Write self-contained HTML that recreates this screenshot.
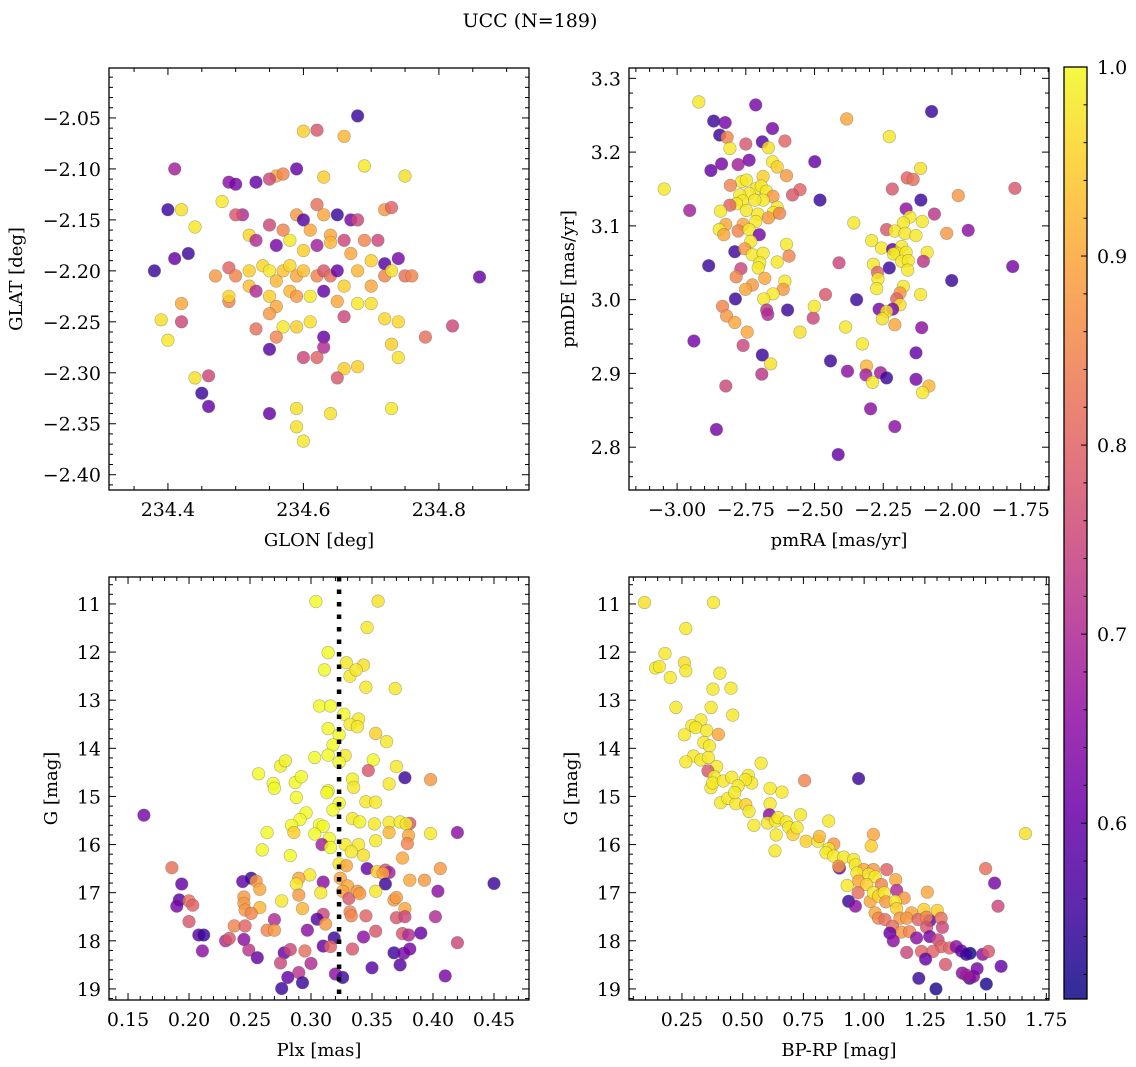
<!DOCTYPE html>
<html><head><meta charset="utf-8"><style>
html,body{margin:0;padding:0;background:#fff;}
svg{display:block;font-family:"DejaVu Serif","Liberation Serif",serif;}
</style></head><body>
<svg id="chart" width="1136" height="1067" viewBox="0 0 1136 1067">
<text x="530" y="27" font-size="19" text-anchor="middle">UCC (N=189)</text>
</svg>
<script>
// ---- data ----
const tlGlon=[234.68,234.62,234.60,234.66,234.69,234.59,234.41,234.63,234.75,234.56,234.57,234.49,234.50,234.53,234.55,234.40,234.42,234.48,234.51,234.50,234.59,234.62,234.60,234.65,234.67,234.68,234.72,234.73,234.44,234.52,234.55,234.57,234.61,234.63,234.64,234.66,234.69,234.71,234.41,234.43,234.38,234.53,234.56,234.58,234.60,234.62,234.64,234.67,234.70,234.74,234.72,234.47,234.49,234.50,234.52,234.54,234.55,234.56,234.57,234.58,234.59,234.60,234.62,234.63,234.64,234.65,234.66,234.68,234.70,234.72,234.73,234.75,234.42,234.39,234.42,234.40,234.49,234.49,234.52,234.53,234.55,234.56,234.58,234.59,234.61,234.63,234.65,234.68,234.70,234.72,234.74,234.53,234.55,234.57,234.59,234.61,234.63,234.66,234.82,234.78,234.76,234.86,234.56,234.55,234.63,234.60,234.62,234.66,234.68,234.65,234.73,234.74,234.44,234.46,234.45,234.46,234.55,234.59,234.64,234.73,234.59,234.60];
const tlGlat=[-2.048,-2.062,-2.063,-2.068,-2.097,-2.100,-2.100,-2.108,-2.107,-2.107,-2.105,-2.113,-2.115,-2.113,-2.110,-2.140,-2.140,-2.132,-2.145,-2.145,-2.145,-2.135,-2.150,-2.145,-2.150,-2.150,-2.140,-2.138,-2.157,-2.165,-2.155,-2.160,-2.160,-2.145,-2.165,-2.170,-2.170,-2.170,-2.188,-2.183,-2.200,-2.170,-2.175,-2.170,-2.180,-2.175,-2.172,-2.183,-2.190,-2.188,-2.193,-2.205,-2.197,-2.205,-2.200,-2.195,-2.200,-2.210,-2.200,-2.195,-2.205,-2.200,-2.205,-2.200,-2.205,-2.200,-2.215,-2.200,-2.215,-2.205,-2.200,-2.205,-2.232,-2.248,-2.250,-2.268,-2.230,-2.225,-2.215,-2.220,-2.225,-2.235,-2.220,-2.225,-2.225,-2.220,-2.230,-2.232,-2.232,-2.247,-2.250,-2.257,-2.242,-2.255,-2.255,-2.250,-2.265,-2.245,-2.254,-2.265,-2.205,-2.206,-2.265,-2.277,-2.275,-2.285,-2.285,-2.296,-2.294,-2.305,-2.272,-2.285,-2.305,-2.303,-2.320,-2.333,-2.340,-2.335,-2.340,-2.335,-2.353,-2.367];
const tlProb=[0.55,0.78,0.95,0.92,0.98,0.6,0.68,0.95,0.97,0.9,0.85,0.65,0.62,0.6,0.75,0.55,0.97,0.98,0.7,0.78,0.88,0.82,0.58,0.55,0.62,0.75,0.88,0.8,0.98,0.96,0.75,0.85,0.9,0.9,0.9,0.75,0.85,0.75,0.6,0.55,0.55,0.7,0.62,0.98,0.95,0.68,0.92,0.9,0.95,0.62,0.58,0.88,0.8,0.85,0.95,0.96,0.98,0.92,0.94,0.96,0.9,0.93,0.85,0.78,0.82,0.6,0.95,0.92,0.9,0.85,0.97,0.82,0.9,0.97,0.75,0.98,0.85,0.96,0.93,0.7,0.95,0.9,0.92,0.88,0.98,0.6,0.9,0.98,0.97,0.96,0.96,0.82,0.88,0.98,0.95,0.97,0.6,0.75,0.75,0.82,0.85,0.6,0.85,0.58,0.7,0.75,0.8,0.95,0.95,0.78,0.95,0.97,0.97,0.75,0.55,0.6,0.6,0.97,0.97,0.98,0.97,0.98];

const trPmra=[-2.921,-2.714,-2.867,-2.825,-2.653,-2.845,-2.818,-2.75,-2.69,-2.608,-2.808,-2.668,-2.877,-2.838,-2.778,-2.738,-2.499,-2.653,-2.636,-2.602,-2.687,-2.765,-2.748,-2.806,-3.047,-2.711,-2.694,-2.675,-2.553,-2.58,-2.738,-2.772,-2.651,-2.48,-2.687,-2.717,-2.762,-2.784,-2.808,-2.636,-2.748,-2.954,-2.842,-2.706,-2.65,-2.668,-2.627,-2.714,-2.823,-2.76,-2.847,-2.83,-2.778,-2.738,-2.701,-2.732,-2.602,-2.79,-2.754,-2.726,-2.687,-2.593,-2.636,-2.699,-2.885,-2.768,-2.705,-2.785,-2.681,-2.608,-2.614,-2.726,-2.751,-2.651,-2.685,-2.788,-2.46,-2.835,-2.82,-2.79,-2.745,-2.674,-2.67,-2.598,-2.505,-2.501,-2.553,-2.411,-2.383,-2.357,-2.347,-2.387,-2.326,-2.939,-2.76,-2.69,-2.66,-2.692,-2.823,-2.857,-2.442,-2.38,-2.311,-2.313,-2.289,-2.26,-2.238,-2.296,-2.208,-2.414,-2.228,-2.074,-2.114,-2.163,-2.141,-2.217,-2.113,-1.771,-1.977,-2.167,-2.153,-2.064,-2.108,-2.177,-2.238,-2.208,-2.171,-2.131,-1.941,-2.019,-2.292,-2.256,-2.216,-2.183,-2.201,-2.167,-2.213,-2.09,-2.183,-2.159,-2.104,-2.286,-2.228,-2.161,-1.779,-2.271,-2.269,-2.001,-2.274,-2.177,-2.189,-2.114,-2.201,-2.189,-2.265,-2.216,-2.238,-2.253,-2.208,-2.11,-2.131,-2.131,-2.084,-2.107];
const trPmde=[3.268,3.264,3.242,3.24,3.232,3.223,3.22,3.211,3.214,3.215,3.205,3.206,3.175,3.184,3.183,3.189,3.187,3.187,3.18,3.168,3.167,3.16,3.162,3.155,3.15,3.151,3.154,3.147,3.149,3.142,3.144,3.142,3.14,3.135,3.135,3.135,3.134,3.13,3.128,3.125,3.121,3.121,3.12,3.116,3.118,3.111,3.117,3.106,3.102,3.102,3.095,3.088,3.093,3.095,3.088,3.079,3.075,3.065,3.069,3.061,3.063,3.059,3.051,3.05,3.046,3.042,3.043,3.031,3.029,3.025,3.014,3.02,3.014,3.008,3.001,3.001,3.007,2.991,2.978,2.969,2.956,2.986,2.98,2.986,2.975,2.991,2.956,3.05,3.245,3.104,3.0,2.963,2.94,2.944,2.938,2.925,2.913,2.899,2.883,2.824,2.917,2.903,2.91,2.898,2.888,2.901,2.894,2.852,2.828,2.79,3.221,3.255,3.178,3.165,3.163,3.15,3.135,3.151,3.141,3.123,3.112,3.116,3.106,3.104,3.095,3.093,3.09,3.087,3.094,3.09,3.08,3.07,3.068,3.072,3.063,3.064,3.062,3.064,3.052,3.053,3.052,3.048,3.043,3.04,3.045,3.037,3.028,3.026,3.015,3.018,3.009,3.007,3.001,2.993,2.987,2.987,2.984,2.974,2.966,2.962,2.928,2.892,2.883,2.874];
const trProb=[0.98,0.62,0.55,0.62,0.62,0.55,0.85,0.78,0.58,0.8,0.98,0.97,0.6,0.62,0.68,0.62,0.6,0.98,0.95,0.88,0.95,0.98,0.98,0.85,0.98,0.98,0.98,0.98,0.8,0.78,0.98,0.98,0.88,0.55,0.98,0.98,0.98,0.98,0.8,0.98,0.98,0.68,0.98,0.98,0.98,0.88,0.85,0.98,0.9,0.9,0.98,0.9,0.85,0.98,0.62,0.98,0.98,0.55,0.88,0.98,0.98,0.85,0.98,0.98,0.55,0.75,0.98,0.85,0.9,0.98,0.88,0.88,0.9,0.98,0.98,0.55,0.78,0.85,0.88,0.9,0.9,0.72,0.7,0.55,0.75,0.98,0.97,0.75,0.9,0.98,0.55,0.98,0.98,0.62,0.75,0.55,0.97,0.72,0.75,0.62,0.55,0.65,0.92,0.68,0.98,0.68,0.55,0.65,0.65,0.6,0.98,0.55,0.97,0.8,0.82,0.78,0.55,0.78,0.88,0.65,0.98,0.72,0.98,0.98,0.78,0.98,0.98,0.98,0.65,0.88,0.98,0.98,0.6,0.98,0.98,0.98,0.98,0.98,0.98,0.98,0.72,0.98,0.55,0.98,0.62,0.8,0.98,0.55,0.98,0.98,0.88,0.98,0.8,0.97,0.62,0.62,0.97,0.97,0.9,0.65,0.6,0.62,0.92,0.98];

const blPlx=[0.304,0.355,0.346,0.314,0.329,0.343,0.311,0.332,0.337,0.345,0.369,0.307,0.316,0.327,0.339,0.332,0.338,0.314,0.323,0.353,0.362,0.318,0.303,0.314,0.328,0.323,0.351,0.275,0.279,0.347,0.377,0.398,0.37,0.364,0.257,0.269,0.27,0.287,0.292,0.334,0.335,0.288,0.314,0.313,0.323,0.345,0.353,0.318,0.296,0.291,0.284,0.286,0.307,0.31,0.303,0.334,0.34,0.352,0.364,0.373,0.381,0.378,0.364,0.38,0.379,0.398,0.42,0.163,0.264,0.26,0.315,0.309,0.316,0.328,0.339,0.333,0.343,0.353,0.283,0.375,0.323,0.329,0.346,0.354,0.361,0.364,0.359,0.406,0.186,0.299,0.29,0.288,0.244,0.251,0.255,0.31,0.194,0.324,0.33,0.381,0.393,0.45,0.361,0.258,0.308,0.326,0.331,0.338,0.34,0.353,0.404,0.245,0.192,0.2,0.203,0.19,0.245,0.246,0.258,0.276,0.29,0.293,0.368,0.37,0.377,0.251,0.27,0.31,0.305,0.312,0.332,0.333,0.345,0.37,0.377,0.402,0.2,0.237,0.246,0.264,0.27,0.297,0.353,0.375,0.38,0.39,0.208,0.212,0.23,0.233,0.245,0.319,0.343,0.42,0.211,0.249,0.256,0.278,0.283,0.295,0.31,0.316,0.334,0.368,0.376,0.381,0.275,0.3,0.373,0.35,0.29,0.281,0.32,0.326,0.41,0.293,0.276];
const blG=[10.95,10.94,11.49,12.01,12.22,12.27,12.37,12.5,12.37,12.73,12.76,13.12,13.12,13.29,13.39,13.5,13.55,13.59,13.72,13.69,13.86,13.93,14.19,14.14,14.15,14.29,14.24,14.37,14.26,14.46,14.61,14.65,14.38,14.74,14.53,14.73,14.83,14.71,14.59,14.64,14.81,15.02,14.88,14.92,15.14,15.11,15.12,15.28,15.34,15.48,15.6,15.75,15.59,15.62,15.78,15.46,15.53,15.57,15.54,15.53,15.56,15.57,15.75,15.81,15.98,15.77,15.75,15.39,15.75,16.11,15.87,16.0,16.06,16.0,16.0,16.15,16.22,15.92,16.23,16.28,16.4,16.44,16.5,16.56,16.53,16.58,16.6,16.5,16.48,16.63,16.7,16.82,16.77,16.7,16.76,16.78,16.82,16.7,16.86,16.74,16.74,16.81,16.82,16.93,17.0,16.97,17.12,16.97,17.02,16.97,16.97,17.09,17.15,17.17,17.26,17.28,17.22,17.36,17.31,17.17,17.05,17.33,17.15,17.1,17.33,17.43,17.56,17.45,17.55,17.65,17.4,17.48,17.48,17.52,17.5,17.5,17.6,17.69,17.69,17.78,17.78,17.78,17.8,17.85,17.88,17.84,17.88,17.88,18.0,17.95,17.97,17.94,17.92,18.04,18.21,18.19,18.35,18.25,18.18,18.21,18.11,18.12,18.17,18.25,18.26,18.17,18.46,18.47,18.5,18.56,18.66,18.76,18.69,18.76,18.73,18.87,18.99];
const blProb=[1,0.97,0.98,1,0.98,0.97,1,0.98,0.98,0.98,0.98,1,1,1,0.98,0.98,0.98,1,1,0.95,0.98,1,1,1,0.98,1,1,0.99,0.99,0.78,0.55,0.88,0.98,0.98,1,1,1,1,1,0.99,0.98,1,1,1,1,0.98,0.98,1,1,1,1,0.95,1,1,1,0.98,0.99,0.98,0.98,0.98,0.78,0.98,0.92,0.9,0.85,0.98,0.65,0.62,1,1,1,0.68,1,0.98,0.98,0.98,0.97,0.98,1,0.9,0.98,0.9,0.6,0.95,0.78,0.68,0.9,0.88,0.82,0.98,0.9,0.98,0.6,0.55,0.88,0.65,0.6,0.9,0.9,0.9,0.88,0.55,0.55,0.9,0.98,0.9,0.78,0.88,0.88,0.98,0.65,0.88,0.58,0.82,0.8,0.62,0.88,0.88,0.92,0.98,0.88,0.92,0.88,0.88,0.9,0.85,0.7,0.75,0.58,0.88,0.85,0.85,0.8,0.78,0.75,0.7,0.78,0.85,0.8,0.85,0.88,0.65,0.78,0.78,0.7,0.6,0.58,0.55,0.7,0.78,0.65,0.55,0.65,0.75,0.65,0.72,0.6,0.6,0.75,0.82,0.6,0.8,0.78,0.55,0.62,0.62,0.75,0.7,0.58,0.58,0.72,0.6,0.65,0.55,0.62,0.55,0.55];
const medianPlx=0.323;

const brBprp=[0.096,0.38,0.266,0.18,0.26,0.141,0.157,0.266,0.202,0.406,0.378,0.452,0.225,0.37,0.459,0.328,0.291,0.307,0.352,0.4,0.26,0.34,0.363,0.298,0.266,0.328,0.359,0.393,0.576,0.357,0.383,0.369,0.376,0.42,0.455,0.523,0.537,0.511,0.481,0.409,0.439,0.472,0.513,0.526,0.467,0.613,0.662,0.613,0.755,0.977,0.61,0.546,0.602,0.635,0.646,0.638,0.633,0.679,0.69,0.707,0.724,0.738,0.854,0.761,0.81,0.816,0.875,0.854,0.843,0.875,0.916,1.038,1.029,0.898,0.895,0.957,0.964,0.998,1.038,1.093,0.97,1.018,1.045,0.977,0.93,1.01,1.071,1.13,0.936,0.964,0.975,1.025,1.038,1.059,1.083,1.089,1.134,1.165,1.128,1.134,1.26,1.195,1.246,1.301,1.045,1.059,1.086,1.147,1.175,1.222,1.27,1.256,1.317,1.117,1.153,1.187,1.106,1.12,1.216,1.257,1.27,1.304,1.322,1.318,1.352,1.379,1.4,1.436,1.42,1.488,1.512,1.175,1.236,1.283,1.253,1.335,1.404,1.434,1.45,1.465,1.42,1.564,1.503,1.296,1.225,1.5,1.537,1.551,1.664];
const brG=[10.97,10.97,11.51,12.03,12.22,12.33,12.3,12.39,12.53,12.44,12.77,12.75,13.15,13.15,13.31,13.41,13.53,13.57,13.63,13.71,13.72,13.88,13.95,14.16,14.28,14.24,14.19,14.38,14.31,14.47,14.59,14.82,14.72,14.68,14.6,14.56,14.72,14.65,14.78,15.13,15.04,15.15,15.17,15.31,14.92,14.83,14.91,15.15,14.67,14.63,15.38,15.6,15.55,15.51,15.44,15.8,16.13,15.53,15.64,15.79,15.65,15.38,15.51,15.93,15.93,15.83,15.99,16.09,16.17,16.24,16.26,15.79,16.03,16.49,16.45,16.31,16.42,16.52,16.52,16.52,16.59,16.62,16.67,16.76,16.85,16.83,16.83,16.73,17.18,17.28,17.0,17.18,17.0,17.07,17.0,17.19,16.95,17.11,17.18,17.33,16.99,17.42,17.35,17.37,17.42,17.53,17.56,17.53,17.53,17.56,17.58,17.51,17.53,17.7,17.82,17.81,17.84,18.0,17.94,17.72,17.91,17.98,17.72,18.12,18.15,18.12,18.21,18.26,18.28,18.28,18.22,18.24,18.22,18.22,18.38,18.49,18.67,18.78,18.74,18.58,18.71,18.53,18.9,19.0,18.78,16.5,16.8,17.28,15.77];
const brProb=[0.97,0.98,0.98,0.98,0.97,0.98,0.98,0.98,0.98,0.98,0.98,0.98,0.98,0.98,0.98,0.98,0.98,0.98,0.98,0.9,0.98,0.98,0.98,0.98,0.98,0.98,0.98,0.98,0.98,0.78,0.98,0.98,0.98,0.98,0.98,0.98,0.98,0.98,0.98,0.98,0.98,0.98,0.95,0.98,0.98,0.98,0.98,0.98,0.85,0.55,0.65,0.98,0.98,0.98,0.98,0.98,0.98,0.98,0.98,0.95,0.98,0.98,0.98,0.95,0.98,0.92,0.88,0.98,0.98,0.98,0.98,0.9,0.95,0.6,0.88,0.98,0.98,0.9,0.88,0.8,0.98,0.98,0.98,0.9,0.98,0.95,0.85,0.9,0.55,0.65,0.82,0.9,0.98,0.95,0.98,0.88,0.7,0.88,0.98,0.95,0.9,0.9,0.95,0.95,0.9,0.85,0.82,0.88,0.88,0.8,0.6,0.85,0.82,0.82,0.88,0.85,0.6,0.65,0.65,0.78,0.62,0.75,0.75,0.8,0.8,0.65,0.6,0.5,0.55,0.65,0.78,0.75,0.8,0.8,0.6,0.78,0.65,0.55,0.65,0.62,0.68,0.6,0.52,0.52,0.55,0.82,0.62,0.75,0.97];

const cbTicks=[0.6,0.7,0.8,0.9,1.0];
const cbMin=0.507, cbMax=1.0;

// ---- rendering ----
const NS='http://www.w3.org/2000/svg';
const svg=document.getElementById('chart');
function mk(tag,attrs,parent){const e=document.createElementNS(NS,tag);for(const k in attrs)e.setAttribute(k,attrs[k]);(parent||svg).appendChild(e);return e;}
const stops=[[0,'#0d0887'],[0.1,'#41049d'],[0.2,'#6a00a8'],[0.3,'#8f0da4'],[0.4,'#b12a90'],[0.5,'#cc4778'],[0.6,'#e16462'],[0.7,'#f2844b'],[0.8,'#fca636'],[0.9,'#fcce25'],[1,'#f0f921']];
function hex(h){return [1,3,5].map(i=>parseInt(h.substr(i,2),16));}
function plasma(t){t=Math.max(0,Math.min(1,t));for(let i=1;i<stops.length;i++){if(t<=stops[i][0]){const a=stops[i-1],b=stops[i];const f=(t-a[0])/(b[0]-a[0]);const ca=hex(a[1]),cb=hex(b[1]);return 'rgb('+ca.map((v,j)=>Math.round(v+(cb[j]-v)*f)).join(',')+')';}}return stops[10][1];}
function probColor(p){return plasma((p-cbMin)/(cbMax-cbMin));}
function fmt(v,d){const s=Math.abs(v).toFixed(d);return (v<-1e-9?'\u2212':'')+s;}
const FS=19;

function panel(c){
  const g=mk('g',{});
  
  
  const X=v=>c.x0+(v-c.xmin)/(c.xmax-c.xmin)*(c.x1-c.x0);
  const Y=v=>c.y1-(v-c.ymin)/(c.ymax-c.ymin)*(c.y1-c.y0);
  const Yv=c.invert?(v=>c.y0+(v-c.ymin)/(c.ymax-c.ymin)*(c.y1-c.y0)):Y;
  const pg=mk('g',{},g);
  
  
  for(let i=0;i<c.xs.length;i++){
    const pt=mk('circle',{cx:X(c.xs[i]).toFixed(1),cy:Yv(c.ys[i]).toFixed(1),r:6.3,fill:probColor(c.ps[i]),'fill-opacity':0.82,stroke:'#555','stroke-opacity':0.45,'stroke-width':0.6},pg);
    
    
  }
  if(c.extra)c.extra(g,X,Yv);
  const fr=mk('rect',{x:c.x0,y:c.y0,width:c.x1-c.x0,height:c.y1-c.y0,fill:'none',stroke:'#000','stroke-width':1.3},g);
  
  
  const eps=1e-9;
  for(let v=Math.ceil(c.xmin/c.xminor-eps)*c.xminor;v<=c.xmax+eps;v+=c.xminor){
    const px=X(v);const isMaj=Math.abs(v/c.xmajor-Math.round(v/c.xmajor))<1e-6;const L=isMaj?7:4;
    mk('line',{x1:px,x2:px,y1:c.y1,y2:c.y1-L,stroke:'#000','stroke-width':1},g);
    mk('line',{x1:px,x2:px,y1:c.y0,y2:c.y0+L,stroke:'#000','stroke-width':1},g);
    if(isMaj){const t=mk('text',{x:px,y:c.y1+26,'font-size':FS,'text-anchor':'middle'},g);t.textContent=fmt(v,c.xd);
      
      }
  }
  for(let v=Math.ceil(c.ymin/c.yminor-eps)*c.yminor;v<=c.ymax+eps;v+=c.yminor){
    const py=Yv(v);const isMaj=Math.abs(v/c.ymajor-Math.round(v/c.ymajor))<1e-6;const L=isMaj?7:4;
    mk('line',{x1:c.x0,x2:c.x0+L,y1:py,y2:py,stroke:'#000','stroke-width':1},g);
    mk('line',{x1:c.x1,x2:c.x1-L,y1:py,y2:py,stroke:'#000','stroke-width':1},g);
    if(isMaj){const t=mk('text',{x:c.x0-8,y:py+7,'font-size':FS,'text-anchor':'end'},g);t.textContent=fmt(v,c.yd);
      
      }
  }
  const xl=mk('text',{x:(c.x0+c.x1)/2,y:c.y1+56,'font-size':FS-1,'text-anchor':'middle'},g);xl.textContent=c.xlabel;
  
  
  const yl=mk('text',{x:0,y:0,'font-size':FS-1,'text-anchor':'middle',transform:'translate('+c.ylx+','+((c.y0+c.y1)/2)+') rotate(-90)'},g);yl.textContent=c.ylabel;
  
  
}

panel({name:'glon-glat-panel',x0:109,x1:529,y0:68,y1:490,xmin:234.313,xmax:234.933,ymin:-2.415,ymax:-2.001,xmajor:0.2,xminor:0.05,ymajor:0.05,yminor:0.01,xd:1,yd:2,xs:tlGlon,ys:tlGlat,ps:tlProb,xlabel:'GLON [deg]',ylabel:'GLAT [deg]',ylx:22});
panel({name:'pmra-pmde-panel',x0:629,x1:1049,y0:68,y1:490,xmin:-3.175,xmax:-1.647,ymin:2.742,ymax:3.314,xmajor:0.25,xminor:0.05,ymajor:0.1,yminor:0.02,xd:2,yd:1,xs:trPmra,ys:trPmde,ps:trProb,xlabel:'pmRA [mas/yr]',ylabel:'pmDE [mas/yr]',ylx:574});
panel({name:'plx-g-panel',x0:109,x1:529,y0:577,y1:1000,xmin:0.1344,xmax:0.4787,ymin:10.44,ymax:19.23,invert:true,xmajor:0.05,xminor:0.01,ymajor:1,yminor:0.2,xd:2,yd:0,xs:blPlx,ys:blG,ps:blProb,xlabel:'Plx [mas]',ylabel:'G [mag]',ylx:57,
  extra:(g,X,Y)=>{const l=mk('line',{x1:X(medianPlx),x2:X(medianPlx),y1:577,y2:1000,stroke:'#000','stroke-width':4.5,'stroke-dasharray':'4.5,8'},g);
    
    }});
panel({name:'cmd-panel',x0:629,x1:1049,y0:577,y1:1000,xmin:0.032,xmax:1.761,ymin:10.44,ymax:19.23,invert:true,xmajor:0.25,xminor:0.05,ymajor:1,yminor:0.2,xd:2,yd:0,xs:brBprp,ys:brG,ps:brProb,xlabel:'BP-RP [mag]',ylabel:'G [mag]',ylx:577});

// colorbar
(function(){
  const x0=1064,x1=1087,y0=67,y1=999;
  const cg=mk('g',{});
  
  
  const defs=mk('defs',{},cg);
  const lg=mk('linearGradient',{id:'cbg',x1:0,y1:1,x2:0,y2:0},defs);
  for(const s of stops){mk('stop',{offset:s[0],'stop-color':s[1],'stop-opacity':0.85},lg);}
  const r=mk('rect',{x:x0,y:y0,width:x1-x0,height:y1-y0,fill:'url(#cbg)',stroke:'#000','stroke-width':1.3},cg);
  
  
  const Yc=v=>y1-(v-cbMin)/(cbMax-cbMin)*(y1-y0);
  for(let v=0.52;v<=1.0001;v+=0.02){const py=Yc(v);const maj=cbTicks.some(t=>Math.abs(t-v)<1e-6);
    mk('line',{x1:x1,x2:x1-(maj?6:3.5),y1:py,y2:py,stroke:'#000','stroke-width':1},cg);}
  for(const t of cbTicks){const tx=mk('text',{x:x1+10,y:Yc(t)+7,'font-size':FS},cg);tx.textContent=t.toFixed(1);
    
    }
})();
</script>
</body></html>
